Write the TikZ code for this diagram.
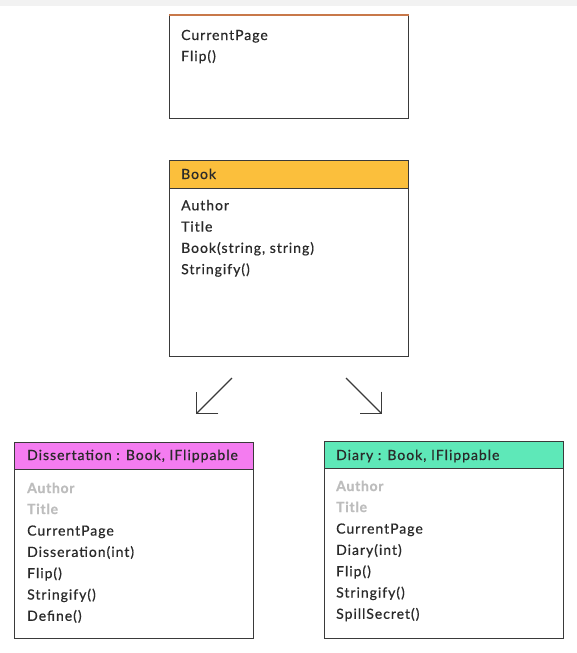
\documentclass[tikz,border=0pt]{standalone}
\usepackage{fontspec}
\setmainfont{Lato}[LetterSpace=7, FakeBold=0.6, BoldFeatures={LetterSpace=5}]
\usetikzlibrary{arrows.meta}
\definecolor{bookor}{HTML}{FBBF3C}
\definecolor{dissmag}{HTML}{F47CF0}
\definecolor{diarytl}{HTML}{5EE8B8}
\definecolor{txt}{HTML}{2A2A2A}
\definecolor{inh}{HTML}{BDBDBD}
\definecolor{edge}{HTML}{3A3A3A}
\definecolor{topline}{HTML}{C8784A}
\tikzset{
  umlbox/.style={draw=edge, line width=0.9pt, fill=white, anchor=north west, inner sep=0pt},
  umlhead/.style={draw=edge, line width=0.9pt, anchor=north west, inner sep=0pt},
  member/.style={anchor=base west, inner sep=0pt, text=txt, font=\fontsize{14}{16}\selectfont},
  inherited/.style={member, text=inh, font=\fontsize{14}{16}\selectfont\bfseries},
  headtext/.style={member},
  gen/.style={draw=edge, line width=1.1pt, -{Straight Barb[length=15.5pt,width=31pt,line width=1.1pt]}}
}
\begin{document}
\begin{tikzpicture}[x=1pt,y=-1pt]
\useasboundingbox (0,0) rectangle (577,653);
\fill[black!5] (0,0) rectangle (577,6);
% IFlippable (cut off)
\node[umlbox, minimum width=239pt, minimum height=103pt] (iflip) at (169,15) {};
\draw[topline, line width=1.2pt] (iflip.north west) -- (iflip.north east);
\node[member] (if1) at (181,40) {CurrentPage};
\node[member] (if2) at (181,61) {Flip()};
% Book
\node[umlbox, minimum width=239pt, minimum height=196pt] (book) at (169,160) {};
\node[umlhead, fill=bookor, minimum width=239pt, minimum height=28pt] (bookh) at (169,160) {};
\node[headtext] (bookt) at (181,179) {Book};
\foreach \t [count=\i] in {Author,Title,{Book(string, string)},Stringify()}
  \node[member] (b\i) at (181,{189+21.3*\i}) {\t};
% Dissertation
\node[umlbox, minimum width=239pt, minimum height=196pt] (diss) at (14,442) {};
\node[umlhead, fill=dissmag, minimum width=239pt, minimum height=27pt] (dissh) at (14,442) {};
\node[headtext] (disst) at (27,460) {Dissertation : Book, IFlippable};
\node[inherited] (d1) at (27,493) {Author};
\node[inherited] (d2) at (27,514) {Title};
\foreach \t [count=\i from 3] in {CurrentPage,Disseration(int),Flip(),Stringify(),Define()}
  \node[member] (d\i) at (27,{471.7+21.3*\i}) {\t};
% Diary
\node[umlbox, minimum width=239pt, minimum height=197pt] (diary) at (324,441) {};
\node[umlhead, fill=diarytl, minimum width=239pt, minimum height=27pt] (diaryh) at (324,441) {};
\node[headtext] (diaryt) at (336,460) {Diary : Book, IFlippable};
\node[inherited] (y1) at (336,491) {Author};
\node[inherited] (y2) at (336,512) {Title};
\foreach \t [count=\i from 3] in {CurrentPage,Diary(int),Flip(),Stringify(),SpillSecret()}
  \node[member] (y\i) at (336,{469.7+21.3*\i}) {\t};
% arrows
\coordinate (la) at (232,378);
\coordinate (lb) at (196,414);
\coordinate (ra) at (346,378);
\coordinate (rb) at (382,414);
\draw[gen] (la) -- (lb);
\draw[gen] (ra) -- (rb);
\end{tikzpicture}
\end{document}
